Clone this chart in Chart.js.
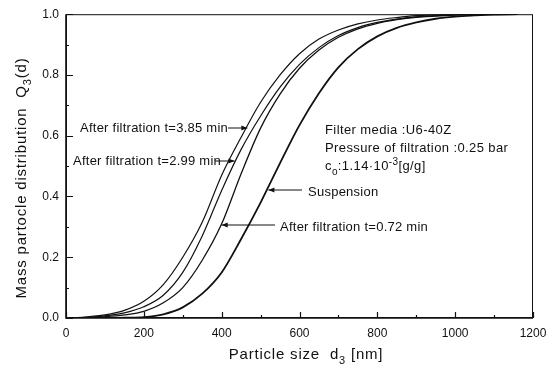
<!DOCTYPE html>
<html lang="en">
<head>
    <meta charset="UTF-8">
    <title>Mass particle distribution</title>
    <script src="https://cdn.jsdelivr.net/npm/chart.js"></script>
    <style>
        body {
            margin: 0;
            padding: 0;
            background: white;
        }
        #wrap {
            width: 559px;
            height: 368px;
        }
    </style>
</head>
<body>
    <div id="wrap"><canvas id="distChart" width="559" height="368"></canvas></div>

    <script>
        // particle size grid [nm]
        const sizes = [0, 50, 100, 150, 200, 250, 300, 350, 400, 450, 500, 550, 600, 650, 700, 750, 800, 850, 900, 950, 1000, 1050, 1100, 1160];

        // cumulative mass distribution Q3(d)
        const filt385 = [0, 0.003, 0.01, 0.025, 0.055, 0.11, 0.2, 0.315, 0.47, 0.595, 0.71, 0.8, 0.87, 0.918, 0.948, 0.968, 0.981, 0.989, 0.995, 0.998, 1, 1, 1, 1];
        const filt299 = [0, 0.002, 0.007, 0.017, 0.037, 0.075, 0.15, 0.27, 0.42, 0.555, 0.665, 0.76, 0.835, 0.89, 0.93, 0.956, 0.973, 0.984, 0.991, 0.995, 0.998, 1, 1, 1];
        const filt072 = [0, 0.001, 0.004, 0.01, 0.022, 0.05, 0.1, 0.19, 0.31, 0.475, 0.625, 0.737, 0.822, 0.882, 0.924, 0.952, 0.97, 0.982, 0.99, 0.994, 0.997, 0.999, 1, 1];
        const suspension = [0, 0, 0, 0.001, 0.003, 0.012, 0.035, 0.08, 0.15, 0.26, 0.38, 0.51, 0.635, 0.74, 0.825, 0.885, 0.927, 0.955, 0.973, 0.985, 0.992, 0.996, 0.999, 1];

        const xTicks = [0, 200, 400, 600, 800, 1000, 1200];
        const yTicks = [0.0, 0.2, 0.4, 0.6, 0.8, 1.0];

        const FONT = "Arial, 'Liberation Sans', sans-serif";

        function pts(values) {
            return sizes.map((s, i) => ({ x: s, y: values[i] }));
        }

        function curve(values, width) {
            return {
                data: pts(values),
                borderColor: "#111",
                borderWidth: width,
                pointRadius: 0,
                fill: false,
                cubicInterpolationMode: "monotone"
            };
        }

        // frame, inward tick marks
        const frameTicks = {
            id: "frameTicks",
            afterDraw(chart) {
                const ctx = chart.ctx;
                const a = chart.chartArea;
                const xs = chart.scales.x;
                const ys = chart.scales.y;
                ctx.save();
                ctx.strokeStyle = "#111";
                ctx.lineWidth = 1;
                ctx.strokeRect(a.left + 0.5, a.top + 0.5, a.right - a.left - 1, a.bottom - a.top - 1);
                ctx.lineWidth = 1.6;
                ctx.beginPath();
                ctx.moveTo(a.left, a.top);
                ctx.lineTo(a.left, a.bottom);
                ctx.lineTo(a.right, a.bottom);
                ctx.stroke();

                ctx.lineWidth = 1.2;
                ctx.beginPath();
                for (let v = 0; v <= 1200; v += 100) {
                    const px = Math.round(xs.getPixelForValue(v)) + 0.5;
                    const len = v % 200 === 0 ? 6 : 3;
                    ctx.moveTo(px, a.bottom);
                    ctx.lineTo(px, a.bottom - len);
                }
                for (let k = 0; k <= 10; k++) {
                    const py = Math.round(ys.getPixelForValue(k / 10)) + 0.5;
                    const len = k % 2 === 0 ? 7 : 3;
                    ctx.moveTo(a.left, py);
                    ctx.lineTo(a.left + len, py);
                }
                ctx.stroke();
                ctx.restore();
            }
        };

        function arrow(ctx, x1, y1, x2, y2) {
            ctx.beginPath();
            ctx.moveTo(x1, y1);
            ctx.lineTo(x2, y2);
            ctx.stroke();
            const dir = Math.sign(x2 - x1);
            ctx.beginPath();
            ctx.moveTo(x2, y2);
            ctx.lineTo(x2 - dir * 6, y2 - 2.5);
            ctx.lineTo(x2 - dir * 6, y2 + 2.5);
            ctx.closePath();
            ctx.fill();
        }

        // text with a lowered/raised small part: parts = [[text, size, dy], ...]
        function richText(ctx, parts, x, y, spacing) {
            let cx = x;
            for (const [txt, size, dy] of parts) {
                ctx.font = size + "px " + FONT;
                ctx.letterSpacing = spacing + "px";
                ctx.fillText(txt, cx, y + dy);
                cx += ctx.measureText(txt).width;
            }
            return cx;
        }

        function richWidth(ctx, parts, spacing) {
            let w = 0;
            for (const [txt, size] of parts) {
                ctx.font = size + "px " + FONT;
                ctx.letterSpacing = spacing + "px";
                w += ctx.measureText(txt).width;
            }
            return w;
        }

        // axis titles with subscripts, notes and arrow labels
        const notes = {
            id: "notes",
            afterDraw(chart) {
                const ctx = chart.ctx;
                const xs = chart.scales.x;
                const X = v => xs.getPixelForValue(v);
                ctx.save();
                ctx.fillStyle = "#111";
                ctx.strokeStyle = "#111";
                ctx.lineWidth = 1;
                ctx.textBaseline = "middle";
                ctx.textAlign = "left";

                // x title
                const xt = [["Particle size  d", 15, 0], ["3", 11, 6], [" [nm]", 15, 0]];
                const xw = richWidth(ctx, xt, 0.8);
                richText(ctx, xt, 306 - xw / 2, 355, 0.8);

                // y title, rotated
                ctx.save();
                ctx.translate(22, 178);
                ctx.rotate(-Math.PI / 2);
                const yt = [["Mass partocle distribution  Q", 15, 0], ["3", 11, 6], ["(d)", 15, 0]];
                const yw = richWidth(ctx, yt, 0.8);
                richText(ctx, yt, -yw / 2, 0, 0.8);
                ctx.restore();

                // curve labels
                let end = richText(ctx, [["After filtration t=3.85 min", 13, 0]], 80, 128, 0.25);
                arrow(ctx, end, 128, X(466), 128);
                end = richText(ctx, [["After filtration t=2.99 min", 13, 0]], 73, 161, 0.25);
                arrow(ctx, end - 6, 161, X(433), 161);
                richText(ctx, [["Suspension", 13, 0]], 308, 192, 0.25);
                arrow(ctx, 302, 190, X(520), 190);
                richText(ctx, [["After filtration t=0.72 min", 13, 0]], 280, 227, 0.25);
                arrow(ctx, 275, 225, X(400), 225);

                // test conditions
                richText(ctx, [["Filter media :U6-40Z", 13, 0]], 325, 130, 0.4);
                richText(ctx, [["Pressure of filtration :0.25 bar", 13, 0]], 325, 148, 0.4);
                richText(ctx, [["c", 13, 0], ["o", 10, 6], [":1.14\u00b710", 13, 0], ["-3", 10, -4], ["[g/g]", 13, 0]], 325, 166, 0.4);
                ctx.restore();
            }
        };

        const distChart = new Chart(document.getElementById("distChart"), {
            type: "line",
            data: {
                datasets: [
                    curve(filt385, 1.2),
                    curve(filt299, 1.2),
                    curve(filt072, 1.3),
                    curve(suspension, 1.8)
                ]
            },
            options: {
                responsive: false,
                animation: false,
                layout: { padding: { top: 14, right: 26, left: 0, bottom: 0 } },
                plugins: {
                    legend: { display: false },
                    tooltip: { enabled: false }
                },
                scales: {
                    x: {
                        type: "linear",
                        min: 0,
                        max: 1200,
                        afterBuildTicks: s => { s.ticks = xTicks.map(v => ({ value: v })); },
                        afterFit: s => { s.height = 50; },
                        grid: { display: false, drawTicks: false },
                        border: { display: false },
                        ticks: {
                            padding: 8,
                            color: "#111",
                            font: { family: FONT, size: 12 },
                            callback: v => String(v)
                        }
                    },
                    y: {
                        type: "linear",
                        min: 0,
                        max: 1,
                        afterBuildTicks: s => { s.ticks = yTicks.map(v => ({ value: v })); },
                        afterFit: s => { s.width = 66; },
                        grid: { display: false, drawTicks: false },
                        border: { display: false },
                        ticks: {
                            padding: 7,
                            color: "#111",
                            font: { family: FONT, size: 12 },
                            callback: v => v.toFixed(1)
                        }
                    }
                }
            },
            plugins: [frameTicks, notes]
        });
    </script>
</body>
</html>
